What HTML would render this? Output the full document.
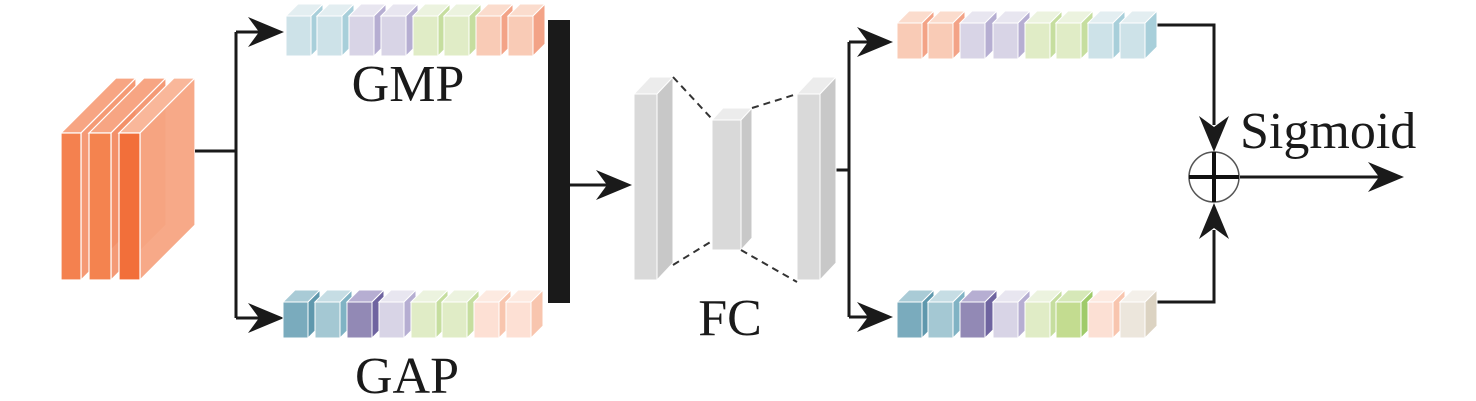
<!DOCTYPE html>
<html><head><meta charset="utf-8"><style>body{margin:0;background:#fff}svg{display:block}</style></head><body>
<svg width="1476" height="401" viewBox="0 0 1476 401" xmlns="http://www.w3.org/2000/svg">
<defs>
<g id="ah"><path d="M0,0 L-36,-15 L-25,0 L-36,15 Z" fill="#1a1a1a"/></g>
</defs>
<g stroke="#fff" stroke-width="1.2">
<polygon points="61,133 116,78 136,78 81,133" fill="#f7a583"/>
<polygon points="81,133 136,78 136,225 81,280" fill="#f59a75"/>
<rect x="61" y="133" width="20" height="147" fill="#f4814f"/>
<polygon points="89,133 144,78 166,78 111,133" fill="#f7a583"/>
<polygon points="111,133 166,78 166,225 111,280" fill="#f39068" opacity="0.9"/>
<rect x="89" y="133" width="22" height="147" fill="#f4834f"/>
<polygon points="119,133 174,78 195,78 140,133" fill="#f9b79a"/>
<polygon points="140,133 195,78 195,225 140,280" fill="#f7a582" opacity="0.95"/>
<rect x="119" y="133" width="21" height="147" fill="#f26f3a"/>
</g>
<g stroke="#1a1a1a" stroke-width="3" fill="none">
<path d="M195,151 H236 M236,32 V318 M236,32 H262 M236,318 H262"/>
<path d="M570,185 H610"/>
<path d="M836,170 H849 M849,42 V317 M849,42 H872 M849,317 H872"/>
<path d="M1157,25 H1214 V125 M1157,302 H1214 V230 M1240,177 H1385"/>
</g>
<use href="#ah" x="284" y="32"/>
<use href="#ah" x="284" y="318"/>
<use href="#ah" x="632" y="185"/>
<use href="#ah" x="893" y="42"/>
<use href="#ah" x="893" y="317"/>
<use href="#ah" transform="translate(1214,152) rotate(90)"/>
<use href="#ah" transform="translate(1214,203) rotate(-90)"/>
<use href="#ah" x="1404" y="177"/>
<circle cx="1214" cy="177" r="25" fill="none" stroke="#555" stroke-width="1.5"/>
<path d="M1189,177 H1239 M1214,152 V202" stroke="#111" stroke-width="4"/>
<rect x="548" y="20" width="22" height="283" fill="#1a1a1a"/>
<g stroke="#fff" stroke-width="1">
<g transform="translate(286,16)"><polygon points="0,0 12,-12 37,-12 25,0" fill="#e3eef1"/><polygon points="25,0 37,-12 37,28 25,40" fill="#a8cfda"/><rect width="25" height="40" fill="#cde2e8"/></g>
<g transform="translate(317,16)"><polygon points="0,0 12,-12 37,-12 25,0" fill="#e3eef1"/><polygon points="25,0 37,-12 37,28 25,40" fill="#a8cfda"/><rect width="25" height="40" fill="#cde2e8"/></g>
<g transform="translate(349,16)"><polygon points="0,0 12,-12 37,-12 25,0" fill="#e8e6f0"/><polygon points="25,0 37,-12 37,28 25,40" fill="#b6aed2"/><rect width="25" height="40" fill="#d8d4e6"/></g>
<g transform="translate(381,16)"><polygon points="0,0 12,-12 37,-12 25,0" fill="#e8e6f0"/><polygon points="25,0 37,-12 37,28 25,40" fill="#b6aed2"/><rect width="25" height="40" fill="#d8d4e6"/></g>
<g transform="translate(413,16)"><polygon points="0,0 12,-12 37,-12 25,0" fill="#ecf3df"/><polygon points="25,0 37,-12 37,28 25,40" fill="#c6de9f"/><rect width="25" height="40" fill="#e0ecc6"/></g>
<g transform="translate(444,16)"><polygon points="0,0 12,-12 37,-12 25,0" fill="#ecf3df"/><polygon points="25,0 37,-12 37,28 25,40" fill="#c6de9f"/><rect width="25" height="40" fill="#e0ecc6"/></g>
<g transform="translate(476,16)"><polygon points="0,0 12,-12 37,-12 25,0" fill="#fbdccd"/><polygon points="25,0 37,-12 37,28 25,40" fill="#f3a387"/><rect width="25" height="40" fill="#f9cbb6"/></g>
<g transform="translate(508,16)"><polygon points="0,0 12,-12 37,-12 25,0" fill="#fbdccd"/><polygon points="25,0 37,-12 37,28 25,40" fill="#f3a387"/><rect width="25" height="40" fill="#f9cbb6"/></g>
<g transform="translate(283,302)"><polygon points="0,0 12,-12 37,-12 25,0" fill="#a9cbd6"/><polygon points="25,0 37,-12 37,24 25,36" fill="#5f98ad"/><rect width="25" height="36" fill="#7aabbd"/></g>
<g transform="translate(315,302)"><polygon points="0,0 12,-12 37,-12 25,0" fill="#c6dde4"/><polygon points="25,0 37,-12 37,24 25,36" fill="#80b3c4"/><rect width="25" height="36" fill="#a4c8d3"/></g>
<g transform="translate(347,302)"><polygon points="0,0 12,-12 37,-12 25,0" fill="#b6aed2"/><polygon points="25,0 37,-12 37,24 25,36" fill="#6f64a0"/><rect width="25" height="36" fill="#9289b5"/></g>
<g transform="translate(379,302)"><polygon points="0,0 12,-12 37,-12 25,0" fill="#e8e6f0"/><polygon points="25,0 37,-12 37,24 25,36" fill="#b6aed2"/><rect width="25" height="36" fill="#d8d4e6"/></g>
<g transform="translate(411,302)"><polygon points="0,0 12,-12 37,-12 25,0" fill="#ecf3df"/><polygon points="25,0 37,-12 37,24 25,36" fill="#c6de9f"/><rect width="25" height="36" fill="#e0ecc6"/></g>
<g transform="translate(442,302)"><polygon points="0,0 12,-12 37,-12 25,0" fill="#ecf3df"/><polygon points="25,0 37,-12 37,24 25,36" fill="#c6de9f"/><rect width="25" height="36" fill="#e0ecc6"/></g>
<g transform="translate(474,302)"><polygon points="0,0 12,-12 37,-12 25,0" fill="#fdeae1"/><polygon points="25,0 37,-12 37,24 25,36" fill="#f8c5ae"/><rect width="25" height="36" fill="#fde0d4"/></g>
<g transform="translate(506,302)"><polygon points="0,0 12,-12 37,-12 25,0" fill="#fdeae1"/><polygon points="25,0 37,-12 37,24 25,36" fill="#f8c5ae"/><rect width="25" height="36" fill="#fde0d4"/></g>
<g transform="translate(897,23)"><polygon points="0,0 12,-12 37,-12 25,0" fill="#fbdccd"/><polygon points="25,0 37,-12 37,24 25,36" fill="#f3a387"/><rect width="25" height="36" fill="#f9cbb6"/></g>
<g transform="translate(928,23)"><polygon points="0,0 12,-12 37,-12 25,0" fill="#fbdccd"/><polygon points="25,0 37,-12 37,24 25,36" fill="#f3a387"/><rect width="25" height="36" fill="#f9cbb6"/></g>
<g transform="translate(960,23)"><polygon points="0,0 12,-12 37,-12 25,0" fill="#e8e6f0"/><polygon points="25,0 37,-12 37,24 25,36" fill="#b6aed2"/><rect width="25" height="36" fill="#d8d4e6"/></g>
<g transform="translate(993,23)"><polygon points="0,0 12,-12 37,-12 25,0" fill="#e8e6f0"/><polygon points="25,0 37,-12 37,24 25,36" fill="#b6aed2"/><rect width="25" height="36" fill="#d8d4e6"/></g>
<g transform="translate(1025,23)"><polygon points="0,0 12,-12 37,-12 25,0" fill="#ecf3df"/><polygon points="25,0 37,-12 37,24 25,36" fill="#c6de9f"/><rect width="25" height="36" fill="#e0ecc6"/></g>
<g transform="translate(1056,23)"><polygon points="0,0 12,-12 37,-12 25,0" fill="#ecf3df"/><polygon points="25,0 37,-12 37,24 25,36" fill="#c6de9f"/><rect width="25" height="36" fill="#e0ecc6"/></g>
<g transform="translate(1088,23)"><polygon points="0,0 12,-12 37,-12 25,0" fill="#e3eef1"/><polygon points="25,0 37,-12 37,24 25,36" fill="#a8cfda"/><rect width="25" height="36" fill="#cde2e8"/></g>
<g transform="translate(1120,23)"><polygon points="0,0 12,-12 37,-12 25,0" fill="#e3eef1"/><polygon points="25,0 37,-12 37,24 25,36" fill="#a8cfda"/><rect width="25" height="36" fill="#cde2e8"/></g>
<g transform="translate(897,302)"><polygon points="0,0 12,-12 37,-12 25,0" fill="#a9cbd6"/><polygon points="25,0 37,-12 37,24 25,36" fill="#5f98ad"/><rect width="25" height="36" fill="#7aabbd"/></g>
<g transform="translate(928,302)"><polygon points="0,0 12,-12 37,-12 25,0" fill="#c6dde4"/><polygon points="25,0 37,-12 37,24 25,36" fill="#80b3c4"/><rect width="25" height="36" fill="#a4c8d3"/></g>
<g transform="translate(960,302)"><polygon points="0,0 12,-12 37,-12 25,0" fill="#b6aed2"/><polygon points="25,0 37,-12 37,24 25,36" fill="#6f64a0"/><rect width="25" height="36" fill="#9289b5"/></g>
<g transform="translate(993,302)"><polygon points="0,0 12,-12 37,-12 25,0" fill="#e8e6f0"/><polygon points="25,0 37,-12 37,24 25,36" fill="#b6aed2"/><rect width="25" height="36" fill="#d8d4e6"/></g>
<g transform="translate(1025,302)"><polygon points="0,0 12,-12 37,-12 25,0" fill="#ecf3df"/><polygon points="25,0 37,-12 37,24 25,36" fill="#c6de9f"/><rect width="25" height="36" fill="#e0ecc6"/></g>
<g transform="translate(1056,302)"><polygon points="0,0 12,-12 37,-12 25,0" fill="#d6e8b8"/><polygon points="25,0 37,-12 37,24 25,36" fill="#9fcb6a"/><rect width="25" height="36" fill="#c3dc90"/></g>
<g transform="translate(1088,302)"><polygon points="0,0 12,-12 37,-12 25,0" fill="#fdeae1"/><polygon points="25,0 37,-12 37,24 25,36" fill="#f8c5ae"/><rect width="25" height="36" fill="#fce0d4"/></g>
<g transform="translate(1120,302)"><polygon points="0,0 12,-12 37,-12 25,0" fill="#f4f0ea"/><polygon points="25,0 37,-12 37,24 25,36" fill="#dcd3c2"/><rect width="25" height="36" fill="#ece6dc"/></g>
</g>
<g stroke="#fff" stroke-width="1">
<polygon points="634,94 650,77 673,77 657,94" fill="#ececec"/><polygon points="657,94 673,77 673,263 657,280" fill="#c8c8c8"/><rect x="634" y="94" width="23" height="186" fill="#d9d9d9"/>
<polygon points="712,120 723,108 752,108 741,120" fill="#ececec"/><polygon points="741,120 752,108 752,238 741,250" fill="#c8c8c8"/><rect x="712" y="120" width="29" height="130" fill="#d9d9d9"/>
<polygon points="797,94 813,77 836,77 820,94" fill="#ececec"/><polygon points="820,94 836,77 836,263 820,280" fill="#c8c8c8"/><rect x="797" y="94" width="23" height="186" fill="#d9d9d9"/>
</g>
<g stroke="#333" stroke-width="2" stroke-dasharray="7,5" fill="none">
<path d="M673,77 L712,119 M752,108 L797,94 M673,265 L712,241 M741,250 L797,282"/>
</g>
<g fill="#1a1a1a" font-size="52">
<text x="408" y="101" text-anchor="middle" font-family="'Liberation Serif','Times New Roman','DejaVu Serif',serif">GMP</text>
<text x="407" y="393" text-anchor="middle" font-family="'Liberation Serif','Times New Roman','DejaVu Serif',serif">GAP</text>
<text x="730" y="335" text-anchor="middle" font-family="'Liberation Serif','Times New Roman','DejaVu Serif',serif">FC</text>
<text x="1240" y="148" font-family="'Liberation Serif','Times New Roman','DejaVu Serif',serif">Sigmoid</text>
</g>
</svg>
</body></html>
